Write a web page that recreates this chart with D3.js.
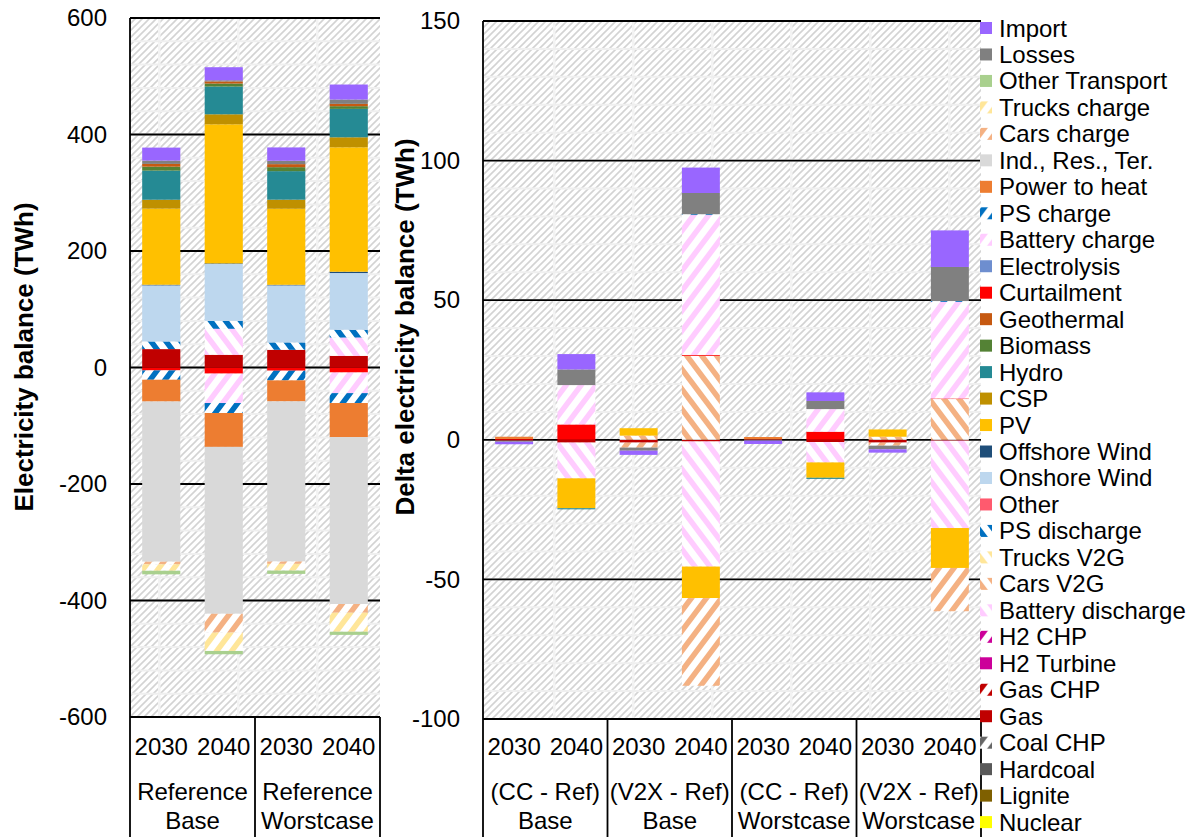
<!DOCTYPE html>
<html>
<head>
<meta charset="utf-8">
<script src="https://cdn.jsdelivr.net/npm/d3@7"></script>
<style>
    body { margin: 0; background: #fff; }
    svg text { font-family: "Liberation Sans", Arial, sans-serif; fill: #000; }
</style>
</head>
<body>
<svg id="chart" width="1200" height="837"></svg>
<script>
// series in stacking order (the legend lists them reversed)
const seriesNames = [
    "Nuclear", "Lignite", "Hardcoal", "Coal CHP", "Gas", "Gas CHP", "H2 Turbine", "H2 CHP",
    "Battery discharge", "Cars V2G", "Trucks V2G", "PS discharge", "Other", "Onshore Wind", "Offshore Wind",
    "PV", "CSP", "Hydro", "Biomass", "Geothermal",
    "Curtailment", "Electrolysis", "Battery charge", "PS charge", "Power to heat", "Ind., Res., Ter.",
    "Cars charge", "Trucks charge", "Other Transport", "Losses", "Import"
];
const seriesColors = [
    "#ffff00", "#7f6000", "#595959", "#666666", "#c00000", "#c00000", "#cc0099", "#cc0099",
    "#ffccff", "#f4b183", "#ffe699", "#0070c0", "#ff5a6e", "#bdd7ee", "#1f4e79",
    "#ffc000", "#bf9000", "#258a94", "#548235", "#c65911",
    "#ff0000", "#6e8ecf", "#ffccff", "#0070c0", "#ed7d31", "#d9d9d9",
    "#f4b183", "#ffe699", "#a9d08e", "#808080", "#9966ff"
];
// "/" = charging-type hatch, "\\" = discharging-type hatch, "" = solid
const seriesHatch = [
    "", "", "", "/", "", "/", "", "/",
    "\\", "\\", "\\", "\\", "", "", "",
    "", "", "", "", "",
    "", "", "/", "/", "", "",
    "/", "/", "", "", ""
];

const years = ["2030", "2040"];
const refGroups = [["Reference", "Base"], ["Reference", "Worstcase"]];
const deltaGroups = [["(CC - Ref)", "Base"], ["(V2X - Ref)", "Base"], ["(CC - Ref)", "Worstcase"], ["(V2X - Ref)", "Worstcase"]];

// TWh, one value per series in seriesNames order
//              Nucl..H2CHP                         BatD  CarV TrkV PSd  Oth  Onsh  Offs
//              PV     CSP   Hydro Bio  Geo         Curt  Elec BatC   PSc    P2H    Ind
//              CarC   TrkC   OthT  Loss Import
const refBase2030 = [0, 0, 0, 0, 31.6, 0, 0, 0,   0, 0, 0, 13.1, 0, 96.3, 1.1,
    130.6, 15.3, 50, 6.8, 4.7,   -5, 0, 0, -16, -37.4, -275,   -4.5, -11, -6.2, 5.7, 22.3];
const refBase2040 = [0, 0, 0, 0, 21.8, 0, 0, 0,   44.7, 0, 0, 13.5, 0, 97.7, 1,
    238.8, 17.2, 47.6, 5.2, 3.6,   -10.5, 0, -50.5, -17.1, -58.2, -286.5,   -32.3, -31.5, -5.7, 2, 22.4];
const refWorst2030 = [0, 0, 0, 0, 30.4, 0, 0, 0,   0, 0, 0, 12.6, 0, 98, 1,
    130.5, 15.6, 49, 6.8, 5.2,   -5.5, 0, 0, -16.6, -36.1, -274.9,   -4, -11.5, -5.7, 5.8, 22.9];
const refWorst2040 = [0, 0, 0, 0, 20, 0, 0, 0,   31.5, 0, 0, 13.3, 0, 97.4, 2.2,
    213.6, 17.2, 48.8, 4.6, 4,   -8.6, 0, -35.4, -17, -58.6, -286.4,   -15, -32.6, -5.4, 7.4, 25.8];

const ccBase2030 = [0, 0, 0, 0, -0.3, 0, 0, 0,   0, 0, 0, 0, 0, 0, 0,
    0, 0, 0, 0, 0,   0.3, 0, 0, 0, 0.8, 0,   0, 0, 0, -0.4, -0.9];
const ccBase2040 = [0, 0, 0, 0, -1, 0, 0, 0,   -12.8, 0, 0, 0, 0, 0, 0,
    -10.7, 0, -0.4, 0, 0,   5.5, 0, 14.1, 0, 0, 0,   0, 0, 0, 5.6, 5.5];
const v2xBase2030 = [0, 0, 0, 0, -1, 0, 0, 0,   0, 1.5, 0, 0, 0, 0, 0,
    2.65, 0, 0, 0, 0,   0, 0, 0, 0, 0, 0,   -1.8, 0, 0, -1.1, -1.5];
const v2xBase2040 = [0, 0, 0, 0, -0.6, 0, 0, 0,   -44.8, 30.1, 0, 0, 0, 0, 0,
    -11.3, 0, 0, 0, 0,   0.3, 0, 50.1, 0.3, 0, 0,   -31.4, 0, 0, 7.6, 9.1];
const ccWorst2030 = [0, 0, 0, 0, 0, 0, 0, 0,   0, 0, 0, 0, 0, 0, 0,
    0, 0, 0, 0, 0,   0.2, 0, 0, 0, 0.8, 0,   0, 0, 0, -0.3, -1.2];
const ccWorst2040 = [0, 0, 0, 0, -0.8, 0, 0, 0,   -7.3, 0, 0, 0, 0, 0, 0,
    -5.5, 0, -0.4, 0, 0,   2.9, 0, 8.1, 0, 0, 0,   0, 0, 0, 2.9, 3.1];
const v2xWorst2030 = [0, 0, 0, 0, -1, 0, 0, 0,   0, 1.1, 0, 0, 0, 0, 0,
    2.6, 0, 0, 0, 0,   0, 0, 0, 0, 0, 0,   -1.1, 0, 0, -1.3, -1.2];
const v2xWorst2040 = [0, 0, 0, 0, -0.3, 0, 0, 0,   -31.3, 14.6, 0, 0, 0, 0, 0,
    -14.3, 0, 0, 0, 0,   0.2, 0, 34.6, 0.3, 0, 0,   -15.5, 0, 0, 12.2, 13.1];

const refBars = [refBase2030, refBase2040, refWorst2030, refWorst2040];
const deltaBars = [ccBase2030, ccBase2040, v2xBase2030, v2xBase2040, ccWorst2030, ccWorst2040, v2xWorst2030, v2xWorst2040];

const svg = d3.select("#chart");
const defs = svg.append("defs");
const fontSize = 24;

function stripePath(w, h, dir) {
    return dir === "/"
        ? `M0,${h}L${w},0M${-w / 2},${h / 2}L${w / 2},${-h / 2}M${w / 2},${1.5 * h}L${1.5 * w},${h / 2}`
        : `M0,0L${w},${h}M${-w / 2},${h / 2}L${w / 2},${1.5 * h}M${w / 2},${-h / 2}L${1.5 * w},${h / 2}`;
}

// background hatch of the plot areas
const bg = defs.append("pattern").attr("id", "bg-hatch")
    .attr("patternUnits", "userSpaceOnUse").attr("width", 7).attr("height", 7);
bg.append("rect").attr("width", 7).attr("height", 7).attr("fill", "#fff");
bg.append("path").attr("d", stripePath(7, 7, "/")).attr("stroke", "#d3d3d3").attr("stroke-width", 1.6);

const seam = defs.append("pattern").attr("id", "bg-seam")
    .attr("patternUnits", "userSpaceOnUse").attr("width", 79).attr("height", 10);
seam.append("rect").attr("x", 0).attr("width", 2.5).attr("height", 10).attr("fill", "#f3f3f3");

seriesNames.forEach((name, i) => {
    if (!seriesHatch[i]) return;
    const w = 15, h = 20;
    const p = defs.append("pattern").attr("id", "hatch-" + i)
        .attr("patternUnits", "userSpaceOnUse").attr("width", w).attr("height", h);
    p.append("rect").attr("width", w).attr("height", h).attr("fill", "#fff");
    p.append("path").attr("d", stripePath(w, h, seriesHatch[i]))
        .attr("stroke", seriesColors[i]).attr("stroke-width", 5.5);
});

const fillFor = i => seriesHatch[i] ? `url(#hatch-${i})` : seriesColors[i];

function drawPanel({bars, groups, domain, major, minor, left, right, top, bottom, title, titleX, titleY}) {
    const g = svg.append("g");
    const x = d3.scaleBand()
        .domain(d3.range(bars.length))
        .range([left, right])
        .paddingInner(0.39)
        .paddingOuter(0.195);
    const y = d3.scaleLinear().domain(domain).range([bottom, top]);

    g.append("rect")
        .attr("x", left).attr("y", top)
        .attr("width", right - left).attr("height", bottom - top)
        .attr("fill", "url(#bg-hatch)");
    g.append("rect")
        .attr("x", left).attr("y", top)
        .attr("width", right - left).attr("height", bottom - top)
        .attr("fill", "url(#bg-seam)");

    g.append("g")
        .selectAll("line")
        .data(d3.range(domain[0], domain[1], minor))
        .join("line")
        .attr("x1", left).attr("x2", right)
        .attr("y1", d => y(d)).attr("y2", d => y(d))
        .attr("stroke", "#efefef").attr("stroke-width", 2);

    const ticks = d3.range(domain[0], domain[1] + major / 2, major);
    g.append("g")
        .selectAll("line")
        .data(ticks)
        .join("line")
        .attr("x1", left).attr("x2", right)
        .attr("y1", d => y(d)).attr("y2", d => y(d))
        .attr("stroke", "#000").attr("stroke-width", 1.8);

    const stacked = d3.stack()
        .keys(d3.range(seriesNames.length))
        .value((d, k) => d[k])
        .offset(d3.stackOffsetDiverging)(bars);

    g.append("g")
        .selectAll("g")
        .data(stacked)
        .join("g")
        .attr("fill", s => fillFor(s.key))
        .selectAll("rect")
        .data(s => s.map((d, i) => ({y0: d[0], y1: d[1], i})).filter(d => d.y0 !== d.y1))
        .join("rect")
        .attr("x", d => x(d.i))
        .attr("width", x.bandwidth())
        .attr("y", d => y(Math.max(d.y0, d.y1)))
        .attr("height", d => Math.abs(y(d.y0) - y(d.y1)));

    // plain hyphen for negatives, as in the original
    g.append("g")
        .attr("transform", `translate(${left},0)`)
        .call(d3.axisLeft(y).tickValues(ticks).tickFormat(d => String(d)).tickSize(0).tickPadding(23))
        .call(a => a.select(".domain").remove())
        .call(a => a.attr("font-size", null).attr("font-family", null))
        .call(a => a.selectAll("text").attr("font-size", fontSize));

    // axis frame and category separators
    g.append("line")
        .attr("x1", left).attr("x2", left).attr("y1", top).attr("y2", 837)
        .attr("stroke", "#000").attr("stroke-width", 1.8);
    g.append("line")
        .attr("x1", left).attr("x2", right).attr("y1", bottom).attr("y2", bottom)
        .attr("stroke", "#000").attr("stroke-width", 1.8);
    const groupWidth = x.step() * years.length;
    g.append("g")
        .selectAll("line")
        .data(d3.range(1, groups.length + 1))
        .join("line")
        .attr("x1", j => left + j * groupWidth).attr("x2", j => left + j * groupWidth)
        .attr("y1", bottom).attr("y2", 837)
        .attr("stroke", "#000").attr("stroke-width", 1.8);

    g.append("g")
        .selectAll("text")
        .data(bars.map((b, i) => i))
        .join("text")
        .attr("x", i => x(i) + x.bandwidth() / 2)
        .attr("y", 755)
        .attr("text-anchor", "middle")
        .attr("font-size", fontSize)
        .text(i => years[i % years.length]);

    const gl = g.append("g")
        .selectAll("text")
        .data(groups)
        .join("text")
        .attr("text-anchor", "middle")
        .attr("font-size", fontSize);
    gl.selectAll("tspan")
        .data((d, j) => d.map(t => ({t, j})))
        .join("tspan")
        .attr("x", d => left + (d.j + 0.5) * groupWidth)
        .attr("y", (d, k) => 800 + k * 29)
        .text(d => d.t);

    g.append("text")
        .attr("transform", `translate(${titleX},${titleY}) rotate(-90)`)
        .attr("text-anchor", "middle")
        .attr("dominant-baseline", "central")
        .attr("font-weight", "bold")
        .attr("font-size", 26)
        .text(title);
}

drawPanel({
    bars: refBars, groups: refGroups, domain: [-600, 600], major: 200, minor: 40,
    left: 130, right: 380, top: 18, bottom: 717,
    title: "Electricity balance  (TWh)", titleX: 24, titleY: 357
});

drawPanel({
    bars: deltaBars, groups: deltaGroups, domain: [-100, 150], major: 50, minor: 10,
    left: 483, right: 981, top: 21, bottom: 719,
    title: "Delta electricity balance  (TWh)", titleX: 405, titleY: 327
});

// legend, top entry is the last stacked series
const legend = svg.append("g")
    .selectAll("g")
    .data(d3.range(seriesNames.length).reverse())
    .join("g")
    .attr("transform", (k, i) => `translate(980,${28 + i * 26.47})`);
legend.append("rect")
    .attr("y", -6).attr("width", 12).attr("height", 12)
    .attr("fill", k => fillFor(k));
legend.append("text")
    .attr("x", 19)
    .attr("dominant-baseline", "central")
    .attr("font-size", fontSize)
    .text(k => seriesNames[k]);
</script>
</body>
</html>
